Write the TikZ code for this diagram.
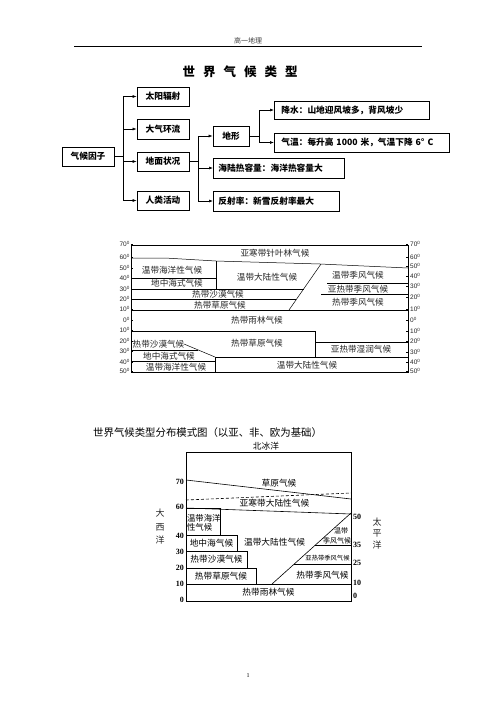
\documentclass[tikz,border=0pt]{standalone}
\usepackage{fontspec}
\setmainfont{Noto Sans CJK SC}
\newfontfamily\lat{Liberation Sans}
\newfontfamily\ser{Liberation Serif}
\usetikzlibrary{arrows.meta}
\begin{document}
\begin{tikzpicture}[x=1pt,y=-1pt,
  fbox/.style={draw, line width=0.8pt, inner sep=0pt, font=\fontsize{8.7}{10}\selectfont\bfseries},
  lbox/.style={fbox, anchor=west, align=left},
  arr/.style={line width=0.6pt, -{Latex[length=4pt,width=3pt]}},
  ln/.style={line width=0.6pt},
  mtxt/.style={inner sep=0pt, font=\fontsize{8.6}{10}\selectfont, text=black!85},
  axl/.style={inner sep=0pt, font=\lat\fontsize{6.5}{7}\selectfont, text=black!85},
  btxt/.style={inner sep=0pt, font=\fontsize{8.7}{10}\selectfont},
  bbox/.style={draw, line width=0.9pt, inner sep=0pt, font=\fontsize{8.7}{10}\selectfont},
  bax/.style={inner sep=0pt, font=\ser\bfseries\fontsize{8}{9}\selectfont}
]
\useasboundingbox (0,0) rectangle (496,702);
\fill[white] (0,0) rectangle (496,702);

% header
\node[inner sep=0pt, font=\fontsize{7}{8}\selectfont, text=black!75] (hdr) at (248,41) {高一地理};
\coordinate (hl1) at (74,46);
\coordinate (hl2) at (422,46);
\draw[line width=0.7pt] (hl1) -- (hl2);

% title
\node[inner sep=0pt, font=\fontsize{12.5}{14}\selectfont\bfseries] (title) at (240,72)
  {世\hspace{8pt}界\hspace{8pt}气\hspace{8pt}候\hspace{8pt}类\hspace{8pt}型};

% flow chart
\node[fbox, minimum width=52pt, minimum height=19pt] (qh) at (88,156.5) {气候因子};
\node[fbox, minimum width=52pt, minimum height=19pt] (b1) at (163,96.5) {太阳辐射};
\node[fbox, minimum width=52pt, minimum height=20pt] (b2) at (163,129) {大气环流};
\node[fbox, minimum width=52pt, minimum height=19pt] (b3) at (163,161.5) {地面状况};
\node[fbox, minimum width=52pt, minimum height=19pt] (b4) at (163,200.5) {人类活动};
\node[fbox, minimum width=36pt, minimum height=20pt] (dx) at (231,136) {地形};
\node[lbox, inner xsep=5pt, text width=121pt, minimum height=20pt] (hl) at (213,168) {海陆热容量：海洋热容量大};
\node[lbox, inner xsep=5pt, text width=116pt, minimum height=20pt] (fs) at (213,201) {反射率：新雪反射率最大};
\node[lbox, inner xsep=7pt, text width=141pt, minimum height=18pt] (js) at (274,110) {降水：山地迎风坡多，背风坡少};
\node[lbox, inner xsep=7pt, text width=161pt, minimum height=19pt] (qw) at (274,142.5) {气温：每升高 1000 米，气温下降 6° C};

\coordinate (j1) at (123,156.5);
\coordinate (j2) at (198,161.5);
\coordinate (j3) at (259,136);
\draw[ln] (qh.east) -- (j1);
\draw[arr] (j1) |- (b1.west);
\draw[arr] (j1) |- (b2.west);
\draw[arr] (j1) |- (b3.west);
\draw[arr] (j1) |- (b4.west);
\draw[ln] (b3.east) -- (j2);
\draw[arr] (j2) |- (dx.west);
\draw[arr] (j2) |- (hl.west);
\draw[arr] (j2) |- (fs.west);
\draw[ln] (dx.east) -- (j3);
\draw[arr] (j3) |- (js.west);
\draw[arr] (j3) |- (qw.west);

% middle diagram
\draw[ln] (131,245) rectangle (408,372);
\draw[line width=0.5pt] (131,258) -- (165,258) -- (216,261) -- (320,264) -- (408,268);
\draw[line width=0.5pt] (216,261) -- (216,289);
\draw[line width=0.5pt] (131,278) -- (216,278);
\draw[line width=0.5pt] (131,289) -- (303.6,289);
\draw[line width=0.5pt] (131,299.5) -- (296.4,299.5);
\draw[line width=0.5pt] (321,264) -- (289,310);
\draw[line width=0.5pt] (327,283) -- (408,283);
\draw[line width=0.5pt] (321,294) -- (408,294);
\draw[line width=0.5pt] (131,310) -- (408,310);
\draw[line width=0.5pt] (131,331) -- (315,331) -- (315,357);
\draw[line width=0.5pt] (315,342) -- (408,342);
\draw[line width=0.5pt] (215,357) -- (408,357);
\draw[line width=0.5pt] (215,357) -- (215,372);
\draw[line width=0.5pt] (184,344) -- (215,357);
\draw[line width=0.5pt] (131,350) -- (198.3,350);
\draw[line width=0.5pt] (131,361.5) -- (215,361.5);

\node[mtxt] (m1) at (275,253) {亚寒带针叶林气候};
\node[mtxt] (m2) at (172,270) {温带海洋性气候};
\node[mtxt] (m3) at (177,283.5) {地中海式气候};
\node[mtxt] (m4) at (267,277) {温带大陆性气候};
\node[mtxt] (m5) at (218,294) {热带沙漠气候};
\node[mtxt] (m6) at (220,305) {热带草原气候};
\node[mtxt] (m7) at (358,275) {温带季风气候};
\node[mtxt] (m8) at (358,289) {亚热带季风气候};
\node[mtxt] (m9) at (358,302) {热带季风气候};
\node[mtxt] (m10) at (257,320) {热带雨林气候};
\node[mtxt] (m11) at (257,343) {热带草原气候};
\node[mtxt] (m12) at (361,349.5) {亚热带湿润气候};
\node[mtxt] (m13) at (158.5,344.5) {热带沙漠气候};
\node[mtxt] (m14) at (169,356.5) {地中海式气候};
\node[mtxt] (m15) at (176,367) {温带海洋性气候};
\node[mtxt] (m16) at (307,365) {温带大陆性气候};

% axis labels middle
\foreach \v/\yl/\yr [count=\i] in {70/244/244,60/257/257,50/268/266,40/278/276,30/289/286,20/299/297,10/309/309,0/320/320,10/330/331,20/341/341,30/351/352,40/362/362,50/371/371}{
  \node[axl, anchor=east] (la\i) at (130,\yl) {\v\textsuperscript{0}};
  \node[axl, anchor=west] (ra\i) at (410,\yr) {\v\textsuperscript{0}};
  \draw[line width=0.5pt] (131,\yl) -- (133,\yl);
  \draw[line width=0.5pt] (406,\yr) -- (408,\yr);
}

% caption
\node[inner sep=0pt, anchor=west, font=\fontsize{10.4}{12}\selectfont] (cap) at (93,433)
  {世界气候类型分布模式图（以亚、非、欧为基础）};
\node[btxt] (bby) at (266,446) {北冰洋};

% bottom diagram
\draw[ln] (186,452) rectangle (351,601);
\draw[ln] (186,480) -- (351,499);
\draw[ln, dashed, dash pattern=on 3pt off 2pt] (186,500) -- (351,493);
\draw[ln] (186,508) -- (351,514);
\draw[ln] (351,513) -- (272,584);
\draw[line width=0.9pt] (315,545) -- (351,545);
\draw[ln] (294,564) -- (351,564);

\node[bbox, minimum width=34pt, minimum height=27pt] (ohy) at (203,521.5) {};
\node[inner sep=0pt, anchor=west, align=left, font=\fontsize{8.4}{9}\selectfont] (ohyt) at (186.8,522.5) {温带海洋\\性气候};
\node[bbox, minimum width=51pt, minimum height=16pt] (dzh) at (211.5,543) {地中海气候};
\node[bbox, minimum width=61pt, minimum height=17pt] (sm) at (216.5,559.5) {热带沙漠气候};
\node[bbox, minimum width=70pt, minimum height=16pt] (cy) at (221,576) {热带草原气候};
\node[bbox, minimum width=165pt, minimum height=17pt] (yl) at (268.5,592.5) {热带雨林气候};

\node[btxt] (t1) at (279,483) {草原气候};
\node[btxt] (t2) at (274.5,503.5) {亚寒带大陆性气候};
\node[btxt] (t3) at (274.5,542) {温带大陆性气候};
\node[btxt, font=\fontsize{7}{8}\selectfont] (t4) at (341,531) {温带};
\node[btxt, font=\fontsize{7}{8}\selectfont] (t5) at (337,541) {季风气候};
\node[btxt, font=\fontsize{6.3}{7}\selectfont] (t6) at (327.5,558) {亚热带季风气候};
\node[btxt] (t7) at (322.5,575) {热带季风气候};

\node[inner sep=0pt, align=center, font=\fontsize{9}{13.5}\selectfont, text=black!85] (dxy) at (160,527) {大\\西\\洋};
\node[inner sep=0pt, align=center, font=\fontsize{9}{11.5}\selectfont, text=black!85] (tpy) at (377,533.5) {太\\平\\洋};

\foreach \v/\yy [count=\i] in {70/482,60/507,40/536,30/552,20/568,10/584,0/600}{
  \node[bax, anchor=east] (bl\i) at (184,\yy) {\v};
}
\foreach \v/\yy [count=\i] in {50/517,35/545,25/563,10/583,0/596}{
  \node[bax, anchor=west] (br\i) at (353,\yy) {\v};
}

\node[inner sep=0pt, font=\ser\fontsize{6}{7}\selectfont] (pg) at (248,676) {1};
\end{tikzpicture}
\end{document}
